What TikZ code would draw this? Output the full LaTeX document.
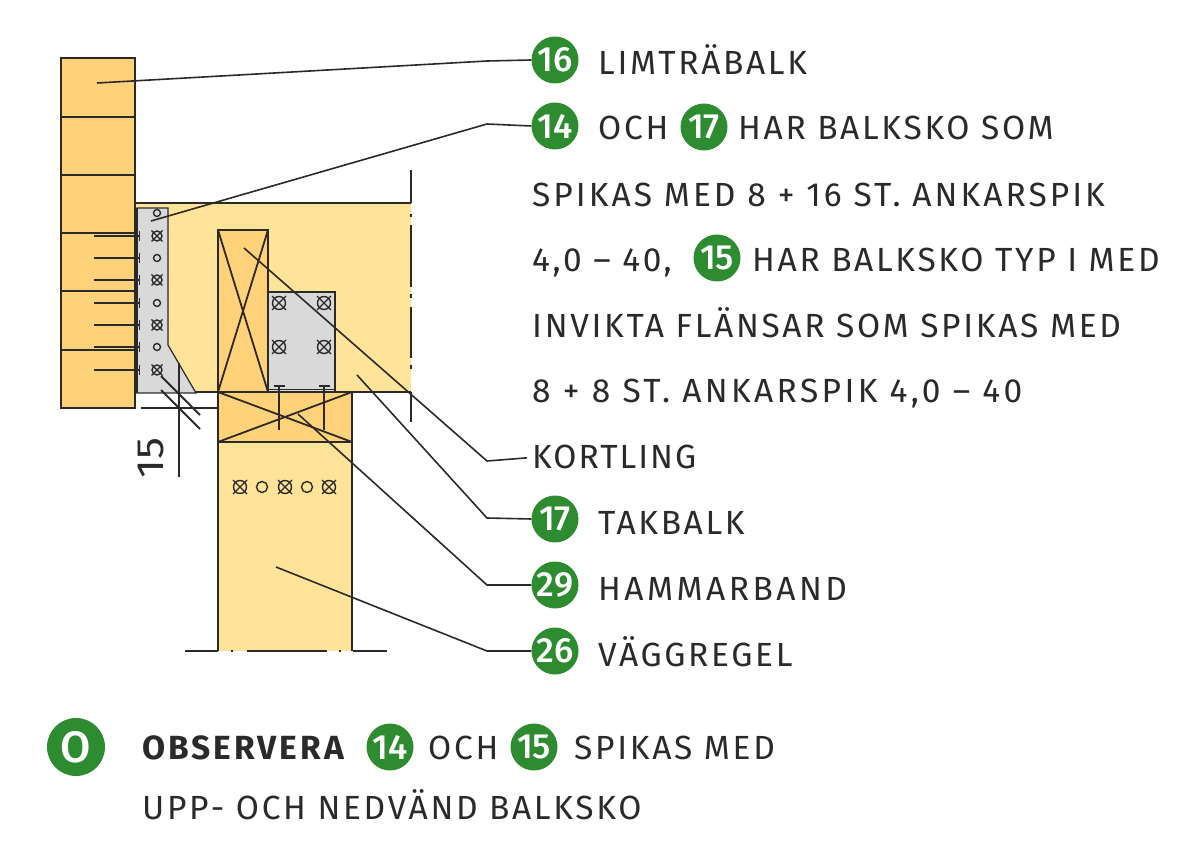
\documentclass[tikz,border=0pt]{standalone}
\usepackage{fontspec}
\usepackage{graphicx}
\setmainfont{Fira Sans}
\newfontfamily\lab[LetterSpace=8]{Fira Sans}
\newfontfamily\med{Fira Sans Medium}
\definecolor{beam}{HTML}{FFD27A}
\definecolor{lite}{HTML}{FFE398}
\definecolor{steel}{HTML}{D9D9D9}
\definecolor{grn}{HTML}{2C8C2F}
\definecolor{ink}{HTML}{2B2A29}
\tikzset{
  x=1pt,y=-1pt,
  edge/.style={draw=ink,line width=2.6pt},
  nail/.style={draw=ink,line width=2.9pt},
  thin edge/.style={draw=ink,line width=1.8pt},
  leader/.style={draw=ink,line width=1.6pt},
  badge/.style={circle,fill=grn,text=white,minimum size=47pt,inner sep=0pt,font=\med\fontsize{35}{35}\selectfont},
  bigbadge/.style={circle,fill=grn,text=white,minimum size=58pt,inner sep=0pt,font=\med\fontsize{44}{44}\selectfont},
  txt/.style={anchor=base west,inner sep=0pt,text=ink,font=\lab\fontsize{33.5}{33.5}\selectfont},
  hole/.style={draw=ink,line width=1.4pt,fill=none}
}
\newcommand{\hO}[3][3.5]{\draw[hole] (#2,#3) circle (#1);}
\newcommand{\hX}[3][5.5]{\draw[hole] (#2,#3) circle (#1-0.5);
  \draw[hole] (#2-#1,#3-#1) -- (#2+#1,#3+#1) (#2-#1,#3+#1) -- (#2+#1,#3-#1);}
\newcommand{\nailH}[1]{\draw[nail] (94,#1) -- (139,#1);\draw[thin edge] (139.5,#1-5) -- (139.5,#1+5);}
\newcommand{\ls}[1]{\addfontfeature{LetterSpace=#1}}
\begin{document}
\begin{tikzpicture}
\useasboundingbox (0,0) rectangle (1200,866);
% takbalk
\fill[lite] (135,203) rectangle (411,392);
\draw[thin edge] (135,203) -- (411,203);
\draw[thin edge] (411,170) -- (411,203);
\draw[thin edge] (411,225) -- (411,287) (411,214) -- (411,217) (411,294) -- (411,298) (411,307) -- (411,358) (411,365) -- (411,369) (411,392) -- (411,422);
\draw[thin edge] (135,392) -- (411,392);
% limtrabalk
\filldraw[fill=beam,edge] (61,58) rectangle (135,408);
\foreach \y in {117,175,233,291,350} \draw[thin edge] (61,\y) -- (135,\y);
% hanger
\filldraw[fill=steel,draw=ink,line width=1.2pt] (137,208) -- (168,208) -- (168,345) -- (196,393) -- (137,393) -- cycle;
\draw[ink,line width=1.4pt] (137,208) -- (137,393);
\foreach \y in {236,258,280,303,325,347,370} {\nailH{\y}}
\foreach \y in {213,258,303,347} {\hO{157}{\y}}
\foreach \y in {236,280,325,370} {\hX{157}{\y}}
% dimension
\draw[thin edge] (141,408) -- (218,408);
\draw[thin edge] (179,363) -- (179,477);
\draw[thin edge] (161,376) -- (200,415) (161,390) -- (200,429);
\node[rotate=90,anchor=base,inner sep=0pt,text=ink,font=\fontsize{38}{38}\selectfont] (dim) at (163,458) {\scalebox{1.15}[1]{15}};
% plate
\filldraw[fill=steel,draw=ink,line width=1.2pt] (268,292) rectangle (335,392);
\draw[ink,line width=.8pt] (268,389) -- (335,389);
\foreach \x in {279,324} \foreach \y in {303,347} {\hX[7]{\x}{\y}}
% kortling
\filldraw[fill=beam,edge] (218,230) rectangle (268,392);
\draw[thin edge] (218,230) -- (268,392) (268,230) -- (218,392);
% vaggregel
\fill[lite] (218,442) rectangle (352,651);
\draw[thin edge] (218,442) -- (218,651) (352,442) -- (352,651);
\draw[thin edge] (185,651) -- (218,651) (231,651) -- (233,651) (247,651) -- (327,651) (339,651) -- (341,651) (353,651) -- (387,651);
\foreach \x in {240,285,329} {\hX[7]{\x}{487}}
\foreach \x in {262,307} {\hO[5.5]{\x}{487}}
% hammarband
\filldraw[fill=beam,edge] (218,392) rectangle (352,442);
\draw[thin edge] (218,392) -- (352,442) (352,392) -- (218,442);
\foreach \x in {279,324} {\draw[thin edge] (\x,386) -- (\x,430); \draw[thin edge] (\x-5.5,386) -- (\x+5.5,386);}
% badges
\node[badge] (b16) at (555,60) {16};
\node[badge] (b14) at (555,126) {14};
\node[badge] (b17i) at (704,127) {17};
\node[badge] (b15i) at (717,258) {15};
\node[badge] (b17) at (555,519) {17};
\node[badge] (b29) at (555,585) {29};
\node[badge] (b26) at (555,651) {26};
\node[bigbadge] (bO) at (76,747) {O};
\node[badge] (o14) at (390,747) {14};
\node[badge] (o15) at (534,747) {15};
% text
\node[txt] (t1) at (598,75) {LIMTRÄBALK};
\node[txt] (t2) at (598,140) {OCH};
\node[txt] (t3) at (738,140) {HAR BALKSKO SOM};
\node[txt] (t4) at (532,207) {\ls{9}SPIKAS MED 8 + 16 ST. ANKARSPIK};
\node[txt] (t5) at (532,272) {4,0 – 40,};
\node[txt] (t6) at (752,272) {HAR BALKSKO TYP I MED};
\node[txt] (t7) at (532,338) {INVIKTA FLÄNSAR SOM SPIKAS MED};
\node[txt] (t8) at (532,403) {\ls{10}8 + 8 ST. ANKARSPIK 4,0 – 40};
\node[txt] (kort) at (532,469) {\ls{6}KORTLING};
\node[txt] (t10) at (598,534) {TAKBALK};
\node[txt] (t11) at (598,600) {\ls{10.4}HAMMARBAND};
\node[txt] (t12) at (598,666) {VÄGGREGEL};
\node[txt,font=\lab\bfseries\fontsize{33.5}{33.5}\selectfont] (t13) at (142,759) {\ls{9}OBSERVERA};
\node[txt] (t14) at (428,759) {OCH};
\node[txt] (t15) at (574,759) {SPIKAS MED};
\node[txt] (t16) at (142,819) {UPP- OCH NEDVÄND BALKSKO};
% leaders
\coordinate (l16) at (97,83);
\coordinate (l14) at (151,221);
\coordinate (lk) at (244,248);
\coordinate (l17) at (357,375);
\coordinate (l29) at (298,414);
\coordinate (l26) at (276,567);
\draw[leader] (l16) -- (487,61) -- (b16.west);
\draw[leader] (l14) -- (487,124) -- (b14.west);
\draw[leader,shorten >=5pt] (lk) -- (487,461) -- (kort.west);
\draw[leader] (l17) -- (487,518) -- (b17.west);
\draw[leader] (l29) -- (487,585) -- (b29.west);
\draw[leader] (l26) -- (487,651) -- (b26.west);
\end{tikzpicture}
\end{document}
